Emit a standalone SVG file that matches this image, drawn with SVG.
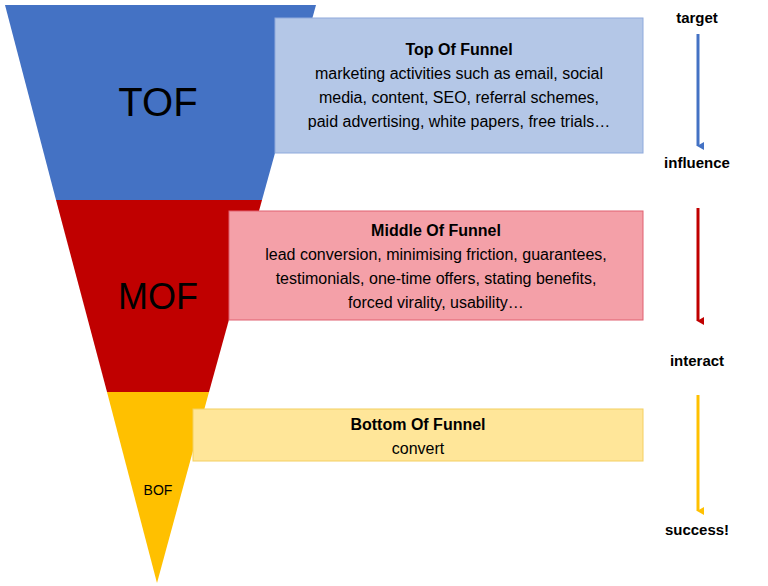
<svg xmlns="http://www.w3.org/2000/svg" width="768" height="586" viewBox="0 0 768 586">
<style>
text{font-family:"Liberation Sans",Arial,sans-serif;text-anchor:middle;fill:#000}
.b{font-size:16px}
.h{font-weight:bold}
.lab{font-size:15px;font-weight:bold}
</style>
<defs>
<marker id="ab" markerWidth="8" markerHeight="8" refX="4" refY="6" orient="auto" markerUnits="userSpaceOnUse" viewBox="0 0 8 8"><path d="M0,0 L8,0 L4,7 Z" fill="#4472C4"/></marker>
<marker id="ar" markerWidth="8" markerHeight="8" refX="4" refY="6" orient="auto" markerUnits="userSpaceOnUse" viewBox="0 0 8 8"><path d="M0,0 L8,0 L4,7 Z" fill="#C00000"/></marker>
<marker id="ay" markerWidth="8" markerHeight="8" refX="4" refY="6" orient="auto" markerUnits="userSpaceOnUse" viewBox="0 0 8 8"><path d="M0,0 L8,0 L4,7 Z" fill="#FFC000"/></marker>
</defs>
<rect width="768" height="586" fill="#fff"/>
<g id="tof"><polygon points="5,5 316,5 262,200 56,200" fill="#4472C4"/><text x="158" y="116" style="font-size:40px">TOF</text></g>
<g id="mof"><polygon points="56,200 262,200 209,392 107,392" fill="#C00000"/><text x="158" y="309" style="font-size:36px">MOF</text></g>
<g id="bof"><polygon points="107,392 209,392 157,583" fill="#FFC000"/><text x="158" y="495" style="font-size:14px">BOF</text></g>
<g id="tofbox"><rect x="275" y="18" width="368" height="135" fill="#B4C7E7" stroke="#8FAADC"/>
<text class="b h" x="459" y="55">Top Of Funnel</text>
<text class="b" x="459" y="79">marketing activities such as email, social</text>
<text class="b" x="459" y="103">media, content, SEO, referral schemes,</text>
<text class="b" x="459" y="127">paid advertising, white papers, free trials…</text></g>
<g id="mofbox"><rect x="229" y="211" width="414" height="109" fill="#F4A0A8" stroke="#E06070"/>
<text class="b h" x="436" y="236">Middle Of Funnel</text>
<text class="b" x="436" y="260">lead conversion, minimising friction, guarantees,</text>
<text class="b" x="436" y="284">testimonials, one-time offers, stating benefits,</text>
<text class="b" x="436" y="308">forced virality, usability…</text></g>
<g id="bofbox"><rect x="193" y="409" width="450" height="52" fill="#FFE699" stroke="#F4CF60"/>
<text class="b h" x="418" y="430">Bottom Of Funnel</text>
<text class="b" x="418" y="454">convert</text></g>
<g id="labels">
<text class="lab" x="697" y="23">target</text>
<text class="lab" x="697" y="168">influence</text>
<text class="lab" x="697" y="366">interact</text>
<text class="lab" x="697" y="535">success!</text></g>
<g id="connectors">
<line x1="698" y1="34" x2="698" y2="146" stroke="#4472C4" stroke-width="3" marker-end="url(#ab)"/>
<line x1="698" y1="208" x2="698" y2="321" stroke="#C00000" stroke-width="3" marker-end="url(#ar)"/>
<line x1="698" y1="395" x2="698" y2="511" stroke="#FFC000" stroke-width="3" marker-end="url(#ay)"/>
</g>
</svg>
